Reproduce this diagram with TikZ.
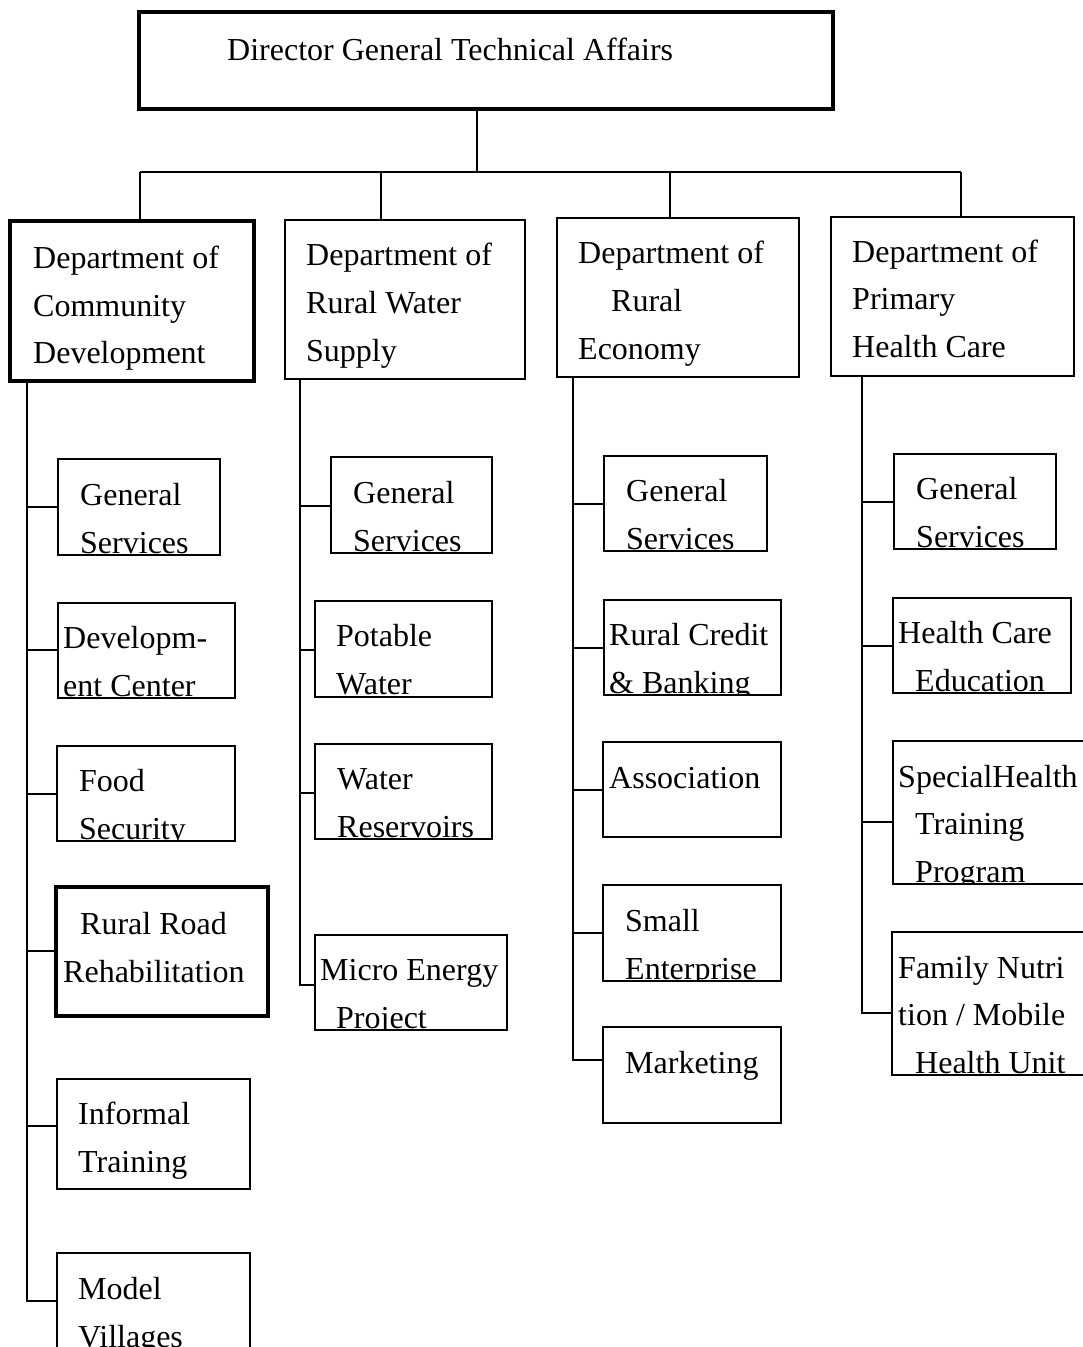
\documentclass[tikz,border=0pt]{standalone}
\usepackage{fontspec}
\setmainfont{Liberation Serif}
\usetikzlibrary{fit}
\newcounter{tlc}
\newcommand\TL[3]{\stepcounter{tlc}\node[txt] (t\arabic{tlc}) at (#1,#2) {#3};}
\newcommand\BX[7]{\begin{scope}\clip (#2,#3) rectangle (#4,#5); #7\end{scope}\node[#6, fit={(#2,#3) (#4,#5)}] (#1) {};}
\begin{document}
\begin{tikzpicture}[x=1pt,y=-1pt,
  bx/.style={draw, line width=2.5pt, inner sep=0pt, outer sep=0pt},
  bxt/.style={bx, line width=4.5pt},
  ln/.style={line width=2.5pt},
  txt/.style={anchor=base west, inner sep=0pt, font=\fontsize{32}{38}\selectfont}]
\useasboundingbox (0,0) rectangle (1082,1347);
% top
\BX{top}{139}{12}{833}{109}{bxt}{\TL{227}{60}{Director General Technical Affairs}}
% departments
\BX{d1}{10}{221}{254}{381}{bxt}{\TL{33}{268}{Department of}\TL{33}{316}{Community}\TL{33}{363}{Development}}
\BX{d2}{285}{220}{525}{379}{bx}{\TL{306}{265}{Department of}\TL{306}{313}{Rural Water}\TL{306}{361}{Supply}}
\BX{d3}{557}{218}{799}{377}{bx}{\TL{578}{263}{Department of}\TL{611}{311}{Rural}\TL{578}{359}{Economy}}
\BX{d4}{831}{217}{1074}{376}{bx}{\TL{852}{262}{Department of}\TL{852}{309}{Primary}\TL{852}{357}{Health Care}}
% column 1
\BX{c11}{58}{459}{220}{555}{bx}{\TL{80}{505}{General}\TL{80}{553}{Services}}
\BX{c12}{58}{603}{235}{698}{bx}{\TL{63}{648}{Developm-}\TL{63}{696}{ent Center}}
\BX{c13}{57}{746}{235}{841}{bx}{\TL{79}{791}{Food}\TL{79}{839}{Security}}
\BX{c14}{56}{887}{268}{1016}{bxt}{\TL{80}{934}{Rural Road}\TL{63}{982}{Rehabilitation}}
\BX{c15}{57}{1079}{250}{1189}{bx}{\TL{78}{1124}{Informal}\TL{78}{1172}{Training}}
\BX{c16}{57}{1253}{250}{1370}{bx}{\TL{78}{1299}{Model}\TL{78}{1347}{Villages}}
% column 2
\BX{c21}{331}{457}{492}{553}{bx}{\TL{353}{503}{General}\TL{353}{551}{Services}}
\BX{c22}{315}{601}{492}{697}{bx}{\TL{336}{646}{Potable}\TL{336}{694}{Water}}
\BX{c23}{315}{744}{492}{839}{bx}{\TL{337}{789}{Water}\TL{337}{837}{Reservoirs}}
\BX{c24}{315}{935}{507}{1030}{bx}{\TL{320}{980}{Micro Energy}\TL{336}{1028}{Project}}
% column 3
\BX{c31}{604}{456}{767}{551}{bx}{\TL{626}{501}{General}\TL{626}{549}{Services}}
\BX{c32}{604}{600}{781}{695}{bx}{\TL{609}{645}{Rural Credit}\TL{609}{693}{\& Banking}}
\BX{c33}{603}{742}{781}{837}{bx}{\TL{609}{788}{Association}}
\BX{c34}{603}{885}{781}{981}{bx}{\TL{625}{931}{Small}\TL{625}{979}{Enterprise}}
\BX{c35}{603}{1027}{781}{1123}{bx}{\TL{625}{1073}{Marketing}}
% column 4
\BX{c41}{894}{454}{1056}{549}{bx}{\TL{916}{499}{General}\TL{916}{547}{Services}}
\BX{c42}{893}{598}{1071}{693}{bx}{\TL{898}{643}{Health Care}\TL{915}{691}{Education}}
\BX{c43}{893}{741}{1095}{884}{bx}{\TL{898}{787}{SpecialHealth}\TL{915}{834}{Training}\TL{915}{882}{Program}}
\BX{c44}{892}{932}{1095}{1075}{bx}{\TL{898}{978}{Family Nutri}\TL{898}{1025}{tion / Mobile}\TL{915}{1073}{Health Unit}}
% bus
\coordinate (bt) at (477,172);
\coordinate (b1) at (140,172);
\coordinate (b2) at (381,172);
\coordinate (b3) at (670,172);
\coordinate (b4) at (961,172);
\draw[ln] (bt |- top.south) -- (bt);
\draw[ln] (b1) -- (b4);
\draw[ln] (b1) -- (b1 |- d1.north);
\draw[ln] (b2) -- (b2 |- d2.north);
\draw[ln] (b3) -- (b3 |- d3.north);
\draw[ln] (b4) -- (b4 |- d4.north);
% trunk 1
\coordinate (j11) at (27,507);
\coordinate (j12) at (27,650);
\coordinate (j13) at (27,794);
\coordinate (j14) at (27,951);
\coordinate (j15) at (27,1126);
\coordinate (j16) at (27,1301);
\draw[ln] (j11 |- d1.south) -- (j16) -- (j16 -| c16.west);
\foreach \i in {1,...,5}{\draw[ln] (j1\i) -- (j1\i -| c1\i.west);}
% trunk 2
\coordinate (j21) at (300,506);
\coordinate (j22) at (300,650);
\coordinate (j23) at (300,793);
\coordinate (j24) at (300,985);
\draw[ln] (j21 |- d2.south) -- (j24) -- (j24 -| c24.west);
\foreach \i in {1,...,3}{\draw[ln] (j2\i) -- (j2\i -| c2\i.west);}
% trunk 3
\coordinate (j31) at (573,504);
\coordinate (j32) at (573,648);
\coordinate (j33) at (573,790);
\coordinate (j34) at (573,933);
\coordinate (j35) at (573,1060);
\draw[ln] (j31 |- d3.south) -- (j35) -- (j35 -| c35.west);
\foreach \i in {1,...,4}{\draw[ln] (j3\i) -- (j3\i -| c3\i.west);}
% trunk 4
\coordinate (j41) at (862,502);
\coordinate (j42) at (862,646);
\coordinate (j43) at (862,822);
\coordinate (j44) at (862,1013);
\draw[ln] (j41 |- d4.south) -- (j44) -- (j44 -| c44.west);
\foreach \i in {1,...,3}{\draw[ln] (j4\i) -- (j4\i -| c4\i.west);}
\end{tikzpicture}
\end{document}
